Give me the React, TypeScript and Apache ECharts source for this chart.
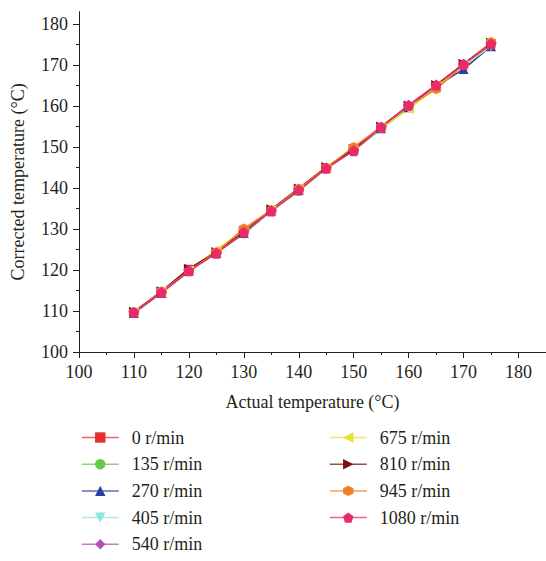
import React, { useEffect, useRef } from "react";
import * as echarts from "echarts";

const xValues = [110, 115, 120, 125, 130, 135, 140, 145, 150, 155, 160, 165, 170, 175];

const names = ["0 r/min", "135 r/min", "270 r/min", "405 r/min", "540 r/min", "675 r/min", "810 r/min", "945 r/min", "1080 r/min"];

const s0 = [109.8, 114.7, 120.3, 124.3, 129.4, 134.7, 139.8, 144.9, 149.3, 154.9, 160.0, 165.0, 170.2, 175.1];
const s135 = [109.6, 114.5, 119.6, 124.2, 128.8, 134.4, 139.2, 144.8, 149.2, 154.6, 159.6, 164.9, 170.1, 174.8];
const s270 = [109.5, 114.4, 119.8, 124.2, 129.0, 134.5, 139.6, 144.9, 149.4, 154.6, 159.7, 164.8, 169.0, 174.6];
const s405 = [109.6, 114.6, 119.7, 124.0, 129.2, 134.3, 139.5, 144.7, 149.2, 154.2, 159.6, 164.7, 169.9, 174.5];
const s540 = [109.7, 114.6, 119.9, 124.1, 129.3, 134.5, 139.6, 144.8, 149.2, 154.7, 160.0, 164.9, 170.1, 175.0];
const s675 = [109.7, 114.7, 119.9, 124.9, 129.5, 134.6, 139.7, 144.9, 149.4, 154.7, 159.2, 164.6, 169.9, 175.2];
const s810 = [109.8, 114.8, 120.3, 124.4, 129.3, 134.8, 139.9, 145.1, 149.5, 155.0, 160.1, 165.1, 170.3, 175.4];
const s945 = [109.7, 114.8, 119.7, 124.4, 130.1, 134.6, 139.8, 145.0, 150.0, 154.9, 160.0, 164.1, 170.0, 175.6];
const s1080 = [109.7, 114.5, 119.8, 124.1, 129.2, 134.4, 139.5, 144.8, 149.1, 154.8, 160.2, 165.1, 170.2, 175.1];

const seriesValues = [s0, s135, s270, s405, s540, s675, s810, s945, s1080];

const colors = ["#e4302a", "#66c84a", "#2c3e9c", "#8ee6dc", "#b84db8", "#e8e030", "#7b1010", "#f47f20", "#e82a6e"];

const pentagon = "path://M0,-1 L0.951,-0.309 L0.588,0.809 L-0.588,0.809 L-0.951,-0.309 Z";
const hexagon = "path://M0,-1 L0.866,-0.5 L0.866,0.5 L0,1 L-0.866,0.5 L-0.866,-0.5 Z";
const symbols = ["rect", "circle", "triangle", "triangle", "diamond", "triangle", "triangle", "hexagon", "pentagon"];
const rotations = [0, 0, 0, 180, 0, 90, -90, 0, 0];
const sizes = [8, 9, 10, 10, 10, 10, 10, 10, 11];

const xMajor = [100, 110, 120, 130, 140, 150, 160, 170, 180];
const xMinor = [105, 115, 125, 135, 145, 155, 165, 175];
const yMajor = [100, 110, 120, 130, 140, 150, 160, 170, 180];
const yMinor = [105, 115, 125, 135, 145, 155, 165, 175];

const FONT = "Liberation Serif";
const FS = 18;
const TEXT = "#231f20";

export default function App() {
  const ref = useRef<HTMLDivElement>(null);
  useEffect(() => {
    if (!ref.current) return;
    const chart = echarts.init(ref.current, null, { renderer: "svg" });
    const sym = (i: number) => (symbols[i] === "pentagon" ? pentagon : symbols[i] === "hexagon" ? hexagon : symbols[i]);
    const axisBase = (min: number, max: number) => ({
      type: "value",
      min,
      max,
      splitLine: { show: false },
    });
    const legendBase = {
      orient: "vertical",
      top: 428.5,
      padding: 0,
      itemWidth: 37,
      itemHeight: 13,
      itemGap: 8.7,
      lineStyle: { width: 1.5, opacity: 0.75 },
      textStyle: { fontFamily: FONT, fontSize: FS, color: TEXT, padding: [0, 0, 0, 8] },
    };
    const option: any = {
      animation: false,
      backgroundColor: "#ffffff",
      textStyle: { fontFamily: FONT },
      grid: { left: 79, top: 11.7, width: 468, height: 340.3 },
      xAxis: [
        {
          ...axisBase(100, 185),
          name: "Actual temperature (°C)",
          nameLocation: "middle",
          nameGap: 41,
          nameTextStyle: { fontFamily: FONT, fontSize: FS, color: TEXT },
          axisLine: { show: true, lineStyle: { color: TEXT, width: 1 } },
          axisTick: { show: true, length: 6, customValues: xMajor, lineStyle: { color: TEXT } },
          axisLabel: { customValues: xMajor, margin: 11, fontFamily: FONT, fontSize: FS, color: TEXT },
        },
        {
          ...axisBase(100, 185),
          position: "bottom",
          axisLine: { show: false },
          axisTick: { show: true, length: 3, customValues: xMinor, lineStyle: { color: TEXT } },
          axisLabel: { show: false },
        },
      ],
      yAxis: [
        {
          ...axisBase(100, 183),
          name: "Corrected temperature (°C)",
          nameLocation: "middle",
          nameGap: 52,
          nameTextStyle: { fontFamily: FONT, fontSize: FS, color: TEXT },
          axisLine: { show: true, lineStyle: { color: TEXT, width: 1 } },
          axisTick: { show: true, length: 6, customValues: yMajor, lineStyle: { color: TEXT } },
          axisLabel: { customValues: yMajor, margin: 11, fontFamily: FONT, fontSize: FS, color: TEXT },
        },
        {
          ...axisBase(100, 183),
          position: "left",
          axisLine: { show: false },
          axisTick: { show: true, length: 3, customValues: yMinor, lineStyle: { color: TEXT } },
          axisLabel: { show: false },
        },
      ],
      legend: [
        { ...legendBase, data: names.slice(0, 5), left: 81 },
        { ...legendBase, data: names.slice(5), left: 329 },
      ],
      series: seriesValues.map((vals, i) => ({
        name: names[i],
        type: "line",
        data: xValues.map((x, j) => [x, vals[j]]),
        symbol: sym(i),
        symbolRotate: rotations[i],
        symbolSize: sizes[i],
        showSymbol: true,
        lineStyle: { color: colors[i], width: 1.5 },
        itemStyle: { color: colors[i] },
        emphasis: { disabled: true },
      })),
    };
    chart.setOption(option);
    return () => chart.dispose();
  }, []);
  return <div ref={ref} style={{ position: "absolute", left: 0, top: 0, width: 546, height: 561 }} />;
}
